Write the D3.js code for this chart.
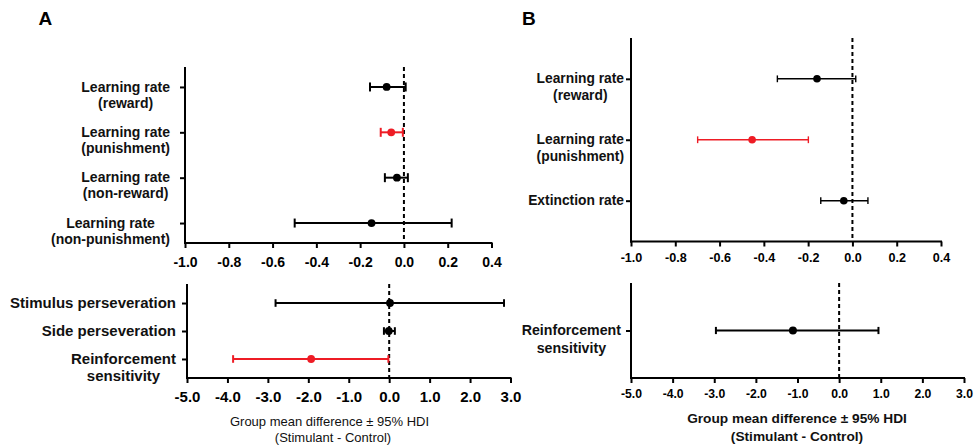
<!DOCTYPE html>
<html>
<head>
<meta charset="utf-8">
<script src="https://cdn.jsdelivr.net/npm/d3@7"></script>
<style>
  body { margin: 0; background: #fff; }
  text { font-family: "Liberation Sans", Arial, sans-serif; }
</style>
</head>
<body>
<div id="chart"></div>
<script>
// ---- data ----
// panel A, learning rates
var aRateLabels = [["Learning rate", "(reward)"], ["Learning rate", "(punishment)"], ["Learning rate", "(non-reward)"], ["Learning rate", "(non-punishment)"]];
var aRateMean = [-0.079, -0.058, -0.032, -0.148];
var aRateLow = [-0.155, -0.106, -0.087, -0.499];
var aRateHigh = [0.008, -0.005, 0.018, 0.218];
var aRateSig = [false, true, false, false];

// panel A, other parameters
var aOtherLabels = [["Stimulus perseveration"], ["Side perseveration"], ["Reinforcement", "sensitivity"]];
var aOtherMean = [0.02, -0.01, -1.93];
var aOtherLow = [-2.81, -0.13, -3.86];
var aOtherHigh = [2.84, 0.14, -0.02];
var aOtherSig = [false, false, true];

// panel B, learning rates
var bRateLabels = [["Learning rate", "(reward)"], ["Learning rate", "(punishment)"], ["Extinction rate"]];
var bRateMean = [-0.16, -0.453, -0.039];
var bRateLow = [-0.339, -0.699, -0.143];
var bRateHigh = [0.015, -0.199, 0.07];
var bRateSig = [false, true, false];

// panel B, reinforcement sensitivity
var bOtherLabels = [["Reinforcement", "sensitivity"]];
var bOtherMean = [-1.11];
var bOtherLow = [-2.96];
var bOtherHigh = [0.945];
var bOtherSig = [false];

// tick values
var rateTicks = [-1.0, -0.8, -0.6, -0.4, -0.2, 0.0, 0.2, 0.4];
var sensTicks = [-5, -4, -3, -2, -1, 0, 1, 2, 3];

var titleLines = ["Group mean difference \u00b1 95% HDI", "(Stimulant - Control)"];

var red = "#ee1c25";

var svg = d3.select("#chart")
  .append("svg")
  .attr("width", 974)
  .attr("height", 445);

function drawPanel(p) {
  var x = d3.scaleLinear()
    .domain(p.domain)
    .range(p.xRange);
  var y = d3.scalePoint()
    .domain(d3.range(p.labels.length))
    .range(p.yRange)
    .padding(p.pad);

  var g = svg.append("g");

  // x axis
  var xg = g.append("g")
    .attr("transform", "translate(0," + p.yRange[1] + ")")
    .call(d3.axisBottom(x).tickValues(p.ticks).tickSize(5).tickSizeOuter(0)
      .tickFormat(function(d) { return d.toFixed(1); }));
  xg.select(".domain").attr("stroke-width", 2).attr("d", "M" + (p.xRange[0] - 1) + ",0H" + (p.xRange[1] + 1));
  xg.selectAll(".tick line").attr("stroke-width", 2);
  xg.selectAll(".tick text")
    .attr("y", p.tickOffset)
    .attr("dy", null)
    .style("font-size", p.tickFont + "px")
    .style("font-weight", "bold")
    .style("font-family", '"Liberation Sans", Arial, sans-serif');

  // y axis (ticks only, labels are drawn below)
  var yg = g.append("g")
    .attr("transform", "translate(" + p.xRange[0] + ",0)")
    .call(d3.axisLeft(y).tickSize(5).tickSizeOuter(0).tickFormat(""));
  yg.select(".domain").attr("stroke-width", 2).attr("d", "M0," + p.yRange[0] + "V" + (p.yRange[1] + 1));
  yg.selectAll(".tick line").attr("stroke-width", 2);

  // zero line
  g.append("line")
    .attr("x1", x(0))
    .attr("x2", x(0))
    .attr("y1", p.yRange[0])
    .attr("y2", p.yRange[1])
    .attr("stroke", "#000")
    .attr("stroke-width", 2)
    .attr("stroke-dasharray", "4,3");

  // category labels, each a centred block right aligned to the axis
  p.labels.forEach(function(lines, i) {
    var t = g.append("text")
      .style("font-size", p.labelFont + "px")
      .style("font-weight", "bold")
      .attr("fill", "#111");
    lines.forEach(function(line, k) {
      t.append("tspan")
        .attr("y", y(i) + p.labelFont * 0.33 + k * p.lineH)
        .text(line);
    });
    var w = d3.max(t.selectAll("tspan").nodes(), function(n) { return n.getComputedTextLength(); });
    t.selectAll("tspan")
      .attr("x", p.labelRight - w / 2)
      .attr("text-anchor", "middle");
  });

  // error bars
  var bars = g.selectAll("g.bar")
    .data(p.mean)
    .enter()
    .append("g")
    .attr("class", "bar")
    .attr("stroke", function(d, i) { return p.sig[i] ? red : "#000"; })
    .attr("fill", function(d, i) { return p.sig[i] ? red : "#000"; })
    .attr("stroke-width", p.barW);

  bars.append("line")
    .attr("x1", function(d, i) { return x(p.low[i]); })
    .attr("x2", function(d, i) { return x(p.high[i]); })
    .attr("y1", function(d, i) { return y(i); })
    .attr("y2", function(d, i) { return y(i); });
  bars.append("line")
    .attr("x1", function(d, i) { return x(p.low[i]); })
    .attr("x2", function(d, i) { return x(p.low[i]); })
    .attr("y1", function(d, i) { return y(i) - p.cap; })
    .attr("y2", function(d, i) { return y(i) + p.cap; });
  bars.append("line")
    .attr("x1", function(d, i) { return x(p.high[i]); })
    .attr("x2", function(d, i) { return x(p.high[i]); })
    .attr("y1", function(d, i) { return y(i) - p.cap; })
    .attr("y2", function(d, i) { return y(i) + p.cap; });
  bars.append("circle")
    .attr("cx", function(d) { return x(d); })
    .attr("cy", function(d, i) { return y(i); })
    .attr("r", p.r)
    .attr("stroke", "none");
}

drawPanel({
  labels: aRateLabels, mean: aRateMean, low: aRateLow, high: aRateHigh, sig: aRateSig,
  domain: [-1.0, 0.4], ticks: rateTicks, xRange: [185, 491.5], yRange: [67, 243], pad: 0.44,
  tickFont: 14, tickOffset: 23.5, labelFont: 14, lineH: 16, labelRight: 170,
  barW: 2, cap: 4.5, r: 3.9
});

drawPanel({
  labels: aOtherLabels, mean: aOtherMean, low: aOtherLow, high: aOtherHigh, sig: aOtherSig,
  domain: [-5, 3], ticks: sensTicks, xRange: [187, 510.5], yRange: [284, 378], pad: 0.68,
  tickFont: 15, tickOffset: 23.5, labelFont: 15, lineH: 17, labelRight: 176,
  barW: 2, cap: 3.8, r: 3.9
});

drawPanel({
  labels: bRateLabels, mean: bRateMean, low: bRateLow, high: bRateHigh, sig: bRateSig,
  domain: [-1.0, 0.4], ticks: rateTicks, xRange: [631, 941], yRange: [38, 241.5], pad: 0.67,
  tickFont: 12.6, tickOffset: 20, labelFont: 13.8, lineH: 16.7, labelRight: 624,
  barW: 1.4, cap: 3.4, r: 3.8
});

drawPanel({
  labels: bOtherLabels, mean: bOtherMean, low: bOtherLow, high: bOtherHigh, sig: bOtherSig,
  domain: [-5, 3], ticks: sensTicks, xRange: [631, 964], yRange: [283, 378], pad: 0.5,
  tickFont: 12.2, tickOffset: 20, labelFont: 14.2, lineH: 18, labelRight: 621,
  barW: 2, cap: 3.6, r: 4
});

// x axis titles
var titleA = svg.append("text")
  .attr("text-anchor", "middle")
  .style("font-size", "13px")
  .attr("fill", "#111");
titleA.selectAll("tspan")
  .data(titleLines)
  .enter()
  .append("tspan")
  .attr("x", function(d, i) { return i == 0 ? 329.5 : 333; })
  .attr("y", function(d, i) { return 426 + i * 15.5; })
  .text(function(d) { return d; });

var titleB = svg.append("text")
  .attr("text-anchor", "middle")
  .style("font-size", "13.7px")
  .style("font-weight", "bold")
  .attr("fill", "#111");
titleB.selectAll("tspan")
  .data(titleLines)
  .enter()
  .append("tspan")
  .attr("x", 797)
  .attr("y", function(d, i) { return 422.5 + i * 18; })
  .text(function(d) { return d; });

// panel letters
svg.append("text")
  .attr("x", 38.5)
  .attr("y", 25)
  .style("font-size", "19px")
  .style("font-weight", "bold")
  .text("A");
svg.append("text")
  .attr("x", 522)
  .attr("y", 25)
  .style("font-size", "19px")
  .style("font-weight", "bold")
  .text("B");
</script>
</body>
</html>
